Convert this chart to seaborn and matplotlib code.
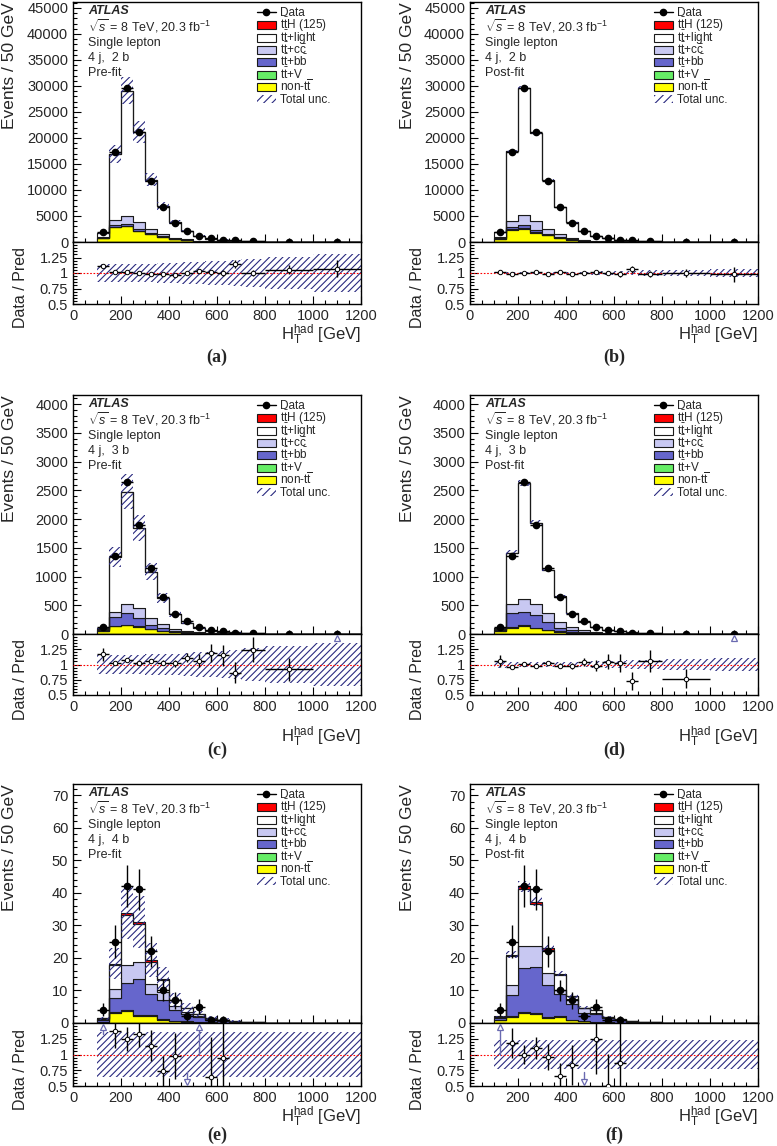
import numpy as np
import pandas as pd
import matplotlib
matplotlib.use("Agg")
import matplotlib.pyplot as plt
import seaborn as sns
from matplotlib.patches import Patch, Rectangle
from matplotlib.lines import Line2D
from matplotlib.legend_handler import HandlerPatch, HandlerLine2D
from matplotlib.ticker import MultipleLocator, FixedLocator, FuncFormatter

# ---------------- data ----------------
bin_edges = [100, 150, 200, 250, 300, 350, 400, 450, 500, 550, 600, 650, 700, 800, 1000, 1200]

# 4 j, 2 b
data_2b = [1930, 17300, 29650, 21150, 11750, 6780, 3720, 2100, 1150, 680, 420, 290, 170, 60, 15]
tth_a = [1, 10, 20, 18, 12, 8, 5, 3, 2, 1, 0.7, 0.5, 0.3, 0.1, 0.03]
light_a = [757, 12780, 24090, 17292, 9533, 5367, 2975, 1597, 832, 505, 308, 184, 127, 40, 9.8]
cc_a = [200, 900, 1450, 1350, 750, 380, 190, 100, 55, 30, 20, 12, 8, 3, 0.7]
bb_a = [60, 330, 450, 340, 210, 120, 70, 40, 22, 13, 8, 5, 3, 1.2, 0.3]
ttv_a = [5, 40, 60, 50, 35, 25, 15, 10, 6, 4, 3, 2, 1.5, 0.6, 0.2]
nontt_a = [700, 2900, 3000, 2100, 1450, 950, 580, 350, 200, 120, 80, 50, 30, 12, 3]
unc_a = [0.12, 0.10, 0.09, 0.10, 0.10, 0.11, 0.12, 0.13, 0.14, 0.15, 0.16, 0.17, 0.18, 0.20, 0.22]
runc_a = [0.15, 0.15, 0.15, 0.15, 0.15, 0.16, 0.16, 0.17, 0.18, 0.19, 0.20, 0.21, 0.23, 0.26, 0.30]

tth_b = [1, 10, 20, 18, 12, 8, 5, 3, 2, 1, 0.7, 0.5, 0.3, 0.1, 0.03]
light_b = [875, 13375, 24470, 16872, 9413, 5240, 2918, 1617, 868, 524, 324, 210, 132, 44, 11.2]
cc_b = [350, 1200, 1950, 1750, 1000, 500, 260, 140, 75, 40, 26, 16, 10, 4, 1]
bb_b = [80, 450, 600, 450, 280, 160, 90, 50, 28, 16, 10, 6, 4, 1.5, 0.4]
ttv_b = [5, 40, 60, 50, 35, 25, 15, 10, 6, 4, 3, 2, 1.5, 0.6, 0.2]
nontt_b = [600, 2400, 2550, 1800, 1250, 780, 470, 280, 160, 95, 60, 40, 25, 10, 2.5]
unc_b = [0.015, 0.01, 0.01, 0.01, 0.01, 0.01, 0.015, 0.015, 0.02, 0.02, 0.025, 0.03, 0.035, 0.045, 0.06]
runc_b = [0.02, 0.015, 0.015, 0.015, 0.015, 0.015, 0.02, 0.02, 0.025, 0.03, 0.03, 0.035, 0.045, 0.055, 0.07]

# 4 j, 3 b
data_3b = [120, 1360, 2650, 1900, 1140, 640, 350, 220, 115, 70, 45, 25, 18, 6, 0.25]
tth_c = [0.3, 2, 4, 4, 3, 2, 1.3, 0.8, 0.5, 0.3, 0.2, 0.15, 0.1, 0.04, 0.001]
light_c = [19.7, 943, 1959, 1396, 811, 450, 253, 146.7, 78.5, 41.6, 27.4, 21.5, 9.7, 4.6, 0.06]
cc_c = [12, 87, 155, 172, 115, 70, 32, 18, 10, 6, 4, 2.5, 1.5, 0.6, 0.015]
bb_c = [15, 160, 195, 140, 72, 45, 25, 14, 8, 4.5, 3, 2, 1.2, 0.5, 0.02]
ttv_c = [1, 6, 9, 8, 5, 4, 2.5, 1.5, 1, 0.6, 0.4, 0.3, 0.2, 0.08, 0.003]
nontt_c = [55, 135, 155, 125, 80, 50, 29, 17, 10, 6, 4, 2.5, 1.8, 0.7, 0.02]
unc_c = [0.14, 0.13, 0.12, 0.12, 0.13, 0.14, 0.15, 0.16, 0.17, 0.18, 0.19, 0.2, 0.21, 0.23, 0.25]
runc_c = [0.16, 0.16, 0.16, 0.16, 0.17, 0.17, 0.18, 0.19, 0.2, 0.21, 0.22, 0.24, 0.27, 0.31, 0.35]

tth_d = [0.3, 2, 4, 4, 3, 2, 1.3, 0.8, 0.5, 0.3, 0.2, 0.15, 0.1, 0.04, 0.001]
light_d = [21.7, 895, 2011, 1419, 744, 447, 246, 147.7, 81.5, 47.1, 31.2, 25.5, 11.8, 5.7, 0.06]
cc_d = [20, 162, 220, 188, 168, 93, 50, 28, 15, 8, 5, 3.5, 2, 0.8, 0.02]
bb_d = [25, 240, 240, 215, 130, 65, 36, 20, 11, 6, 4, 2.5, 1.5, 0.6, 0.025]
ttv_d = [1, 6, 9, 8, 5, 4, 2.5, 1.5, 1, 0.6, 0.4, 0.3, 0.2, 0.08, 0.003]
nontt_d = [45, 112, 140, 105, 68, 42, 25, 14, 8, 5, 3.2, 2, 1.4, 0.6, 0.02]
unc_d = [0.05, 0.03, 0.02, 0.02, 0.025, 0.03, 0.03, 0.035, 0.04, 0.045, 0.05, 0.06, 0.07, 0.08, 0.1]
runc_d = [0.05, 0.04, 0.035, 0.035, 0.035, 0.04, 0.04, 0.045, 0.05, 0.055, 0.06, 0.07, 0.08, 0.095, 0.11]

# 4 j, 4 b
data_4b = [4, 25, 42, 41, 22, 10, 7, 2, 5, 1, 1, 0, 0, 0, 0]
tth_e = [0.05, 0.4, 0.7, 0.65, 0.45, 0.3, 0.18, 0.1, 0.06, 0.04, 0.02, 0.01, 0.006, 0.002, 0.001]
light_e = [0.2, 7.5, 15.35, 11.7, 6.75, 3.8, 1.9, 1.22, 0.64, 0.34, 0.26, 0.15, 0.064, 0.02, 0.008]
cc_e = [0.3, 2.5, 5.7, 5.1, 3.1, 2.4, 1.1, 0.7, 0.4, 0.2, 0.15, 0.08, 0.04, 0.015, 0.005]
bb_e = [0.6, 4.4, 8.2, 11.2, 6.4, 5.8, 3.3, 2.2, 1.4, 0.8, 0.5, 0.3, 0.15, 0.05, 0.015]
ttv_e = [0.05, 0.2, 0.35, 0.35, 0.3, 0.2, 0.12, 0.08, 0.05, 0.03, 0.02, 0.01, 0.01, 0.003, 0.001]
nontt_e = [0.3, 3.2, 3.6, 2.0, 2.3, 1.0, 0.6, 0.4, 0.25, 0.15, 0.1, 0.05, 0.03, 0.01, 0.003]
unc_e = [0.3, 0.26, 0.24, 0.26, 0.27, 0.28, 0.3, 0.32, 0.33, 0.34, 0.35, 0.35, 0.35, 0.35, 0.35]
runc_e = [0.35, 0.35, 0.35, 0.35, 0.35, 0.35, 0.35, 0.35, 0.35, 0.35, 0.35, 0.35, 0.35, 0.35, 0.35]

tth_f = [0.05, 0.5, 0.9, 0.85, 0.6, 0.4, 0.25, 0.15, 0.08, 0.05, 0.03, 0.015, 0.008, 0.003, 0.001]
light_f = [0.15, 8.9, 17.35, 12.7, 6.9, 4.8, 0.93, 0.07, 0.77, 0.30, 0.18, 0.105, 0.042, 0.014, 0.004]
cc_f = [0.15, 3.1, 6.9, 6.4, 3.8, 1.2, 1.5, 1.3, 0.3, 0.1, 0.1, 0.06, 0.03, 0.01, 0.003]
bb_f = [0.8, 6.5, 13.5, 14.3, 9.7, 6.8, 4.7, 2.6, 2.5, 1.3, 0.7, 0.35, 0.18, 0.06, 0.018]
ttv_f = [0.05, 0.2, 0.35, 0.35, 0.3, 0.2, 0.12, 0.08, 0.05, 0.03, 0.02, 0.01, 0.01, 0.003, 0.001]
nontt_f = [0.8, 1.8, 3.0, 2.7, 1.6, 1.8, 0.9, 0.5, 0.3, 0.2, 0.12, 0.06, 0.03, 0.01, 0.003]
unc_f = [0.08, 0.05, 0.04, 0.04, 0.05, 0.06, 0.07, 0.08, 0.09, 0.1, 0.1, 0.1, 0.1, 0.1, 0.1]
runc_f = [0.23, 0.23, 0.23, 0.23, 0.23, 0.23, 0.23, 0.23, 0.23, 0.23, 0.23, 0.23, 0.23, 0.23, 0.23]

comp_labels = [r"$\mathrm{t\bar{t}}$H (125)", r"$\mathrm{t\bar{t}}$+light",
               r"$\mathrm{t\bar{t}}$+$\mathrm{c\bar{c}}$", r"$\mathrm{t\bar{t}}$+$\mathrm{b\bar{b}}$",
               r"$\mathrm{t\bar{t}}$+V", r"$\mathrm{non}$-$\mathrm{t}\overline{\mathrm{t}}$"]
comp_colors = ["#ff0000", "#ffffff", "#c8c8f2", "#6666cc", "#66ee66", "#ffff00"]
region_labels = ["4 j,  2 b", "4 j,  3 b", "4 j,  4 b"]
fit_labels = ["Pre-fit", "Post-fit"]
panel_tags = ["(a)", "(b)", "(c)", "(d)", "(e)", "(f)"]
ylims = [46150, 4157, 73.4]
ymajor = [5000, 500, 10]
yminor = [1000, 100, 2]

# ---------------- style ----------------
sns.set_theme(style="ticks")
plt.rcParams['font.family'] = ['Liberation Sans', 'DejaVu Sans']
plt.rcParams['mathtext.fontset'] = 'custom'
plt.rcParams['mathtext.rm'] = 'Liberation Sans'
plt.rcParams['mathtext.it'] = 'Liberation Sans:italic'
plt.rcParams['mathtext.bf'] = 'Liberation Sans:bold'
HATCH_C = "#2a2a80"
HATCH = "/////"
plt.rcParams['hatch.linewidth'] = 0.8
plt.rcParams['hatch.color'] = HATCH_C
plt.rcParams['axes.linewidth'] = 1.0
plt.rcParams['axes.edgecolor'] = 'black'

edges = np.array(bin_edges, dtype=float)
centers = 0.5 * (edges[:-1] + edges[1:])
halfw = 0.5 * (edges[1:] - edges[:-1])
scale50 = (edges[1:] - edges[:-1]) / 50.0

panels = [
    dict(data=data_2b, comps=[tth_a, light_a, cc_a, bb_a, ttv_a, nontt_a], unc=unc_a, runc=runc_a),
    dict(data=data_2b, comps=[tth_b, light_b, cc_b, bb_b, ttv_b, nontt_b], unc=unc_b, runc=runc_b),
    dict(data=data_3b, comps=[tth_c, light_c, cc_c, bb_c, ttv_c, nontt_c], unc=unc_c, runc=runc_c),
    dict(data=data_3b, comps=[tth_d, light_d, cc_d, bb_d, ttv_d, nontt_d], unc=unc_d, runc=runc_d),
    dict(data=data_4b, comps=[tth_e, light_e, cc_e, bb_e, ttv_e, nontt_e], unc=unc_e, runc=runc_e),
    dict(data=data_4b, comps=[tth_f, light_f, cc_f, bb_f, ttv_f, nontt_f], unc=unc_f, runc=runc_f),
]

W, H = 777.0, 1146.0
col_x = [73, 470]
PW = 288
row_px = [(2, 242, 304), (395, 634, 695), (784, 1023, 1086)]
xlabel_y = [335, 737, 1117]
tag_y = [357, 750, 1135]

fig = plt.figure(figsize=(7.77, 11.46), dpi=100)

LEG_FS = 8.5


def small_box(legend, orig_handle, xdescent, ydescent, width, height, fontsize):
    return Rectangle((-xdescent, 0.0), width, 0.68 * fontsize)


def shift_line(legend_handle, orig_handle):
    legend_handle.update_from(orig_handle)
    legend_handle.set_ydata(np.asarray(legend_handle.get_ydata()) - 0.2 * LEG_FS)


fmt_g = FuncFormatter(lambda v, p: f"{v:g}")

for i, p in enumerate(panels):
    row, col = divmod(i, 2)
    ytop, ymid, ybot = row_px[row]
    x0 = col_x[col]
    axm = fig.add_axes([x0 / W, 1 - ymid / H, PW / W, (ymid - ytop) / H])
    axr = fig.add_axes([x0 / W, 1 - ybot / H, PW / W, (ybot - ymid) / H])

    # stacked histogram
    rows = []
    for lab, vals in zip(comp_labels, p["comps"]):
        for c, v in zip(centers, vals):
            rows.append({"x": c, "w": v, "comp": lab})
    df = pd.DataFrame(rows)
    sns.histplot(data=df, x="x", weights="w", hue="comp", hue_order=comp_labels,
                 palette=dict(zip(comp_labels, comp_colors)), bins=bin_edges,
                 multiple="stack", element="step", fill=True, alpha=1,
                 edgecolor="#1a1a1a", linewidth=0.8, legend=False, ax=axm)

    pred = np.sum(np.array(p["comps"], dtype=float), axis=0)
    unc = np.array(p["unc"])
    lo = pred * (1 - unc)
    hi = pred * (1 + unc)
    axm.fill_between(edges, np.append(lo, lo[-1]), np.append(hi, hi[-1]), step="post",
                     facecolor="none", edgecolor=HATCH_C, hatch=HATCH, linewidth=0, zorder=5)

    data = np.array(p["data"], dtype=float)
    nev = data * scale50
    derr = np.sqrt(nev) / scale50
    m = data > 0
    axm.errorbar(centers[m], data[m], xerr=halfw[m], yerr=derr[m], fmt="o", color="black",
                 ms=4.5, elinewidth=1.0, capsize=0, zorder=10)

    axm.set_xlim(0, 1200)
    axm.set_ylim(0, ylims[row])
    axm.xaxis.set_major_locator(MultipleLocator(200))
    axm.xaxis.set_minor_locator(MultipleLocator(50))
    axm.yaxis.set_major_locator(MultipleLocator(ymajor[row]))
    axm.yaxis.set_minor_locator(MultipleLocator(yminor[row]))
    axm.yaxis.set_major_formatter(fmt_g)
    axm.tick_params(axis="both", which="both", direction="in", top=False, right=False,
                    color="black", width=0.8)
    axm.tick_params(which="major", length=5.5, labelsize=10.5, pad=3.5)
    axm.tick_params(which="minor", length=2.8)
    axm.tick_params(axis="x", labelbottom=False)
    axm.set_xlabel("")
    axm.set_ylabel("")

    # text block
    tx = 0.052
    axm.text(tx, 0.962, "ATLAS", transform=axm.transAxes, fontsize=9, fontweight="bold",
             fontstyle="italic", va="center", ha="left")
    axm.text(tx, 0.900, r"$\sqrt{s}$ = 8 TeV, 20.3 fb$^{-1}$", transform=axm.transAxes,
             fontsize=9, va="center", ha="left")
    axm.text(tx, 0.828, "Single lepton", transform=axm.transAxes, fontsize=9, va="center", ha="left")
    axm.text(tx, 0.766, region_labels[row], transform=axm.transAxes, fontsize=9, va="center", ha="left")
    axm.text(tx, 0.703, fit_labels[col], transform=axm.transAxes, fontsize=9, va="center", ha="left")

    # legend
    handles = [Line2D([], [], color="black", marker="o", ms=4.5, lw=1.0)]
    for lab, colr in zip(comp_labels, comp_colors):
        handles.append(Patch(facecolor=colr, edgecolor="#1a1a1a", linewidth=0.8))
    handles.append(Patch(facecolor="none", edgecolor=HATCH_C, hatch="////", linewidth=0))
    labels = ["Data"] + comp_labels + ["Total unc."]
    axm.legend(handles, labels, loc="upper left", bbox_to_anchor=(0.639, 0.995),
               frameon=False, fontsize=LEG_FS, borderpad=0, borderaxespad=0,
               handlelength=1.6, handleheight=2.0, handletextpad=0.34, labelspacing=-0.5,
               numpoints=1,
               handler_map={Patch: HandlerPatch(patch_func=small_box),
                            Line2D: HandlerLine2D(update_func=shift_line)})

    # ratio
    runc = np.array(p["runc"])
    axr.fill_between(edges, np.append(1 - runc, 1 - runc[-1]), np.append(1 + runc, 1 + runc[-1]),
                     step="post", facecolor="none", edgecolor=HATCH_C, hatch=HATCH, linewidth=0, zorder=2)
    axr.axhline(1.0, color="red", ls=(0, (1.5, 1.5)), lw=0.8, zorder=3)
    ratio = data / pred
    rerr = derr / pred
    inr = m & (ratio >= 0.5) & (ratio <= 1.5)
    axr.errorbar(centers[inr], ratio[inr], xerr=halfw[inr], yerr=rerr[inr], fmt="o",
                 mfc="white", mec="black", mew=0.7, color="black", ms=3.2,
                 elinewidth=1.0, capsize=0, zorder=6)
    up = m & (ratio > 1.5)
    dn = m & (ratio < 0.5)
    for xc, r, e in zip(centers[up], ratio[up], rerr[up]):
        low = r - e
        if 0.5 <= low < 1.44:
            axr.plot([xc, xc], [low, 1.44], color="#6a6ab0", lw=1.0, zorder=6)
        axr.plot([xc], [1.44], marker="^", ms=5, mfc="white", mec="#6a6ab0", mew=0.9,
                 zorder=7, clip_on=False)
    for xc, r, e in zip(centers[dn], ratio[dn], rerr[dn]):
        high = r + e
        if 0.56 < high <= 1.5:
            axr.plot([xc, xc], [0.56, high], color="#6a6ab0", lw=1.0, zorder=6)
        axr.plot([xc], [0.56], marker="v", ms=5, mfc="white", mec="#6a6ab0", mew=0.9,
                 zorder=7, clip_on=False)

    axr.set_xlim(0, 1200)
    axr.set_ylim(0.5, 1.5)
    axr.xaxis.set_major_locator(MultipleLocator(200))
    axr.xaxis.set_minor_locator(MultipleLocator(50))
    axr.yaxis.set_major_locator(FixedLocator([0.5, 0.75, 1.0, 1.25]))
    axr.yaxis.set_minor_locator(MultipleLocator(0.05))
    axr.yaxis.set_major_formatter(fmt_g)
    axr.xaxis.set_major_formatter(fmt_g)
    axr.tick_params(axis="both", which="both", direction="in", top=False, right=False,
                    color="black", width=0.8)
    axr.tick_params(which="major", length=5.5, labelsize=10.5, pad=3.5)
    axr.tick_params(which="minor", length=2.8)

    # axis titles
    xl = x0 - 63
    fig.text(xl / W, 1 - ytop / H, "Events / 50 GeV", rotation=90, ha="center", va="top",
             fontsize=12.5)
    fig.text((x0 - 52) / W, 1 - (ybot - 16) / H, "Data / Pred", rotation=90, ha="center",
             va="center", fontsize=11.5)
    fig.text((x0 + PW) / W, 1 - xlabel_y[row] / H, r"$\mathrm{H_T^{had}}$ [GeV]", ha="right",
             va="center", fontsize=12)
    fig.text((x0 + PW / 2) / W, 1 - tag_y[row] / H, panel_tags[i], ha="center", va="center",
             fontsize=13, fontweight="bold", family="Liberation Serif")

fig.savefig("out.png", dpi=100)
